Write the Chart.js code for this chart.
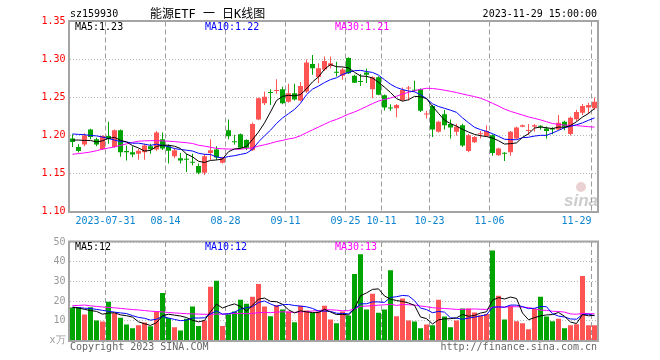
<!DOCTYPE html>
<html>
<head>
<meta charset="utf-8">
<script src="https://cdn.jsdelivr.net/npm/chart.js@4.4.0/dist/chart.umd.min.js"></script>
<style>
  body { margin: 0; background: #fff; }
  #wrap { position: relative; width: 660px; height: 360px; }
  #priceChart { position: absolute; left: 0; top: 0; }
  #volChart { position: absolute; left: 0; top: 232px; }
</style>
</head>
<body>
<div id="wrap">
  <canvas id="priceChart" width="660" height="232"></canvas>
  <canvas id="volChart" width="660" height="128"></canvas>
</div>
<script>
// trading days shown on the chart
const dates = [
  '2023-07-21','2023-07-24','2023-07-25','2023-07-26','2023-07-27','2023-07-28','2023-07-31',
  '2023-08-01','2023-08-02','2023-08-03','2023-08-04','2023-08-07','2023-08-08','2023-08-09','2023-08-10','2023-08-11',
  '2023-08-14','2023-08-15','2023-08-16','2023-08-17','2023-08-18','2023-08-21','2023-08-22','2023-08-23','2023-08-24','2023-08-25',
  '2023-08-28','2023-08-29','2023-08-30','2023-08-31',
  '2023-09-01','2023-09-04','2023-09-05','2023-09-06','2023-09-07','2023-09-08','2023-09-11','2023-09-12','2023-09-13','2023-09-14',
  '2023-09-15','2023-09-18','2023-09-19','2023-09-20','2023-09-21','2023-09-22','2023-09-25','2023-09-26','2023-09-27','2023-09-28',
  '2023-10-09','2023-10-10','2023-10-11','2023-10-12','2023-10-13','2023-10-16','2023-10-17','2023-10-18','2023-10-19','2023-10-20',
  '2023-10-23','2023-10-24','2023-10-25','2023-10-26','2023-10-27','2023-10-30','2023-10-31',
  '2023-11-01','2023-11-02','2023-11-03','2023-11-06','2023-11-07','2023-11-08','2023-11-09','2023-11-10','2023-11-13','2023-11-14',
  '2023-11-15','2023-11-16','2023-11-17','2023-11-20','2023-11-21','2023-11-22','2023-11-23','2023-11-24','2023-11-27','2023-11-28','2023-11-29'
];

const openP = [
  1.196,1.185,1.188,1.208,1.195,1.182,1.1995,1.185,1.207,1.1795,
  1.178,1.176,1.178,1.186,1.1815,1.195,1.186,1.1726,1.170,1.1685,
  1.165,1.160,1.151,1.177,1.1815,1.164,1.207,1.192,1.2017,1.194,
  1.1805,1.221,1.2425,1.257,1.2585,1.261,1.2445,1.2555,1.246,1.258,
  1.294,1.277,1.287,1.2917,1.283,1.2785,1.302,1.2785,1.271,1.283,
  1.261,1.2765,1.253,1.236,1.2357,1.2467,1.262,1.2595,1.261,1.2275,
  1.2388,1.205,1.228,1.215,1.205,1.2136,1.1797,1.191,1.2015,1.199,
  1.2004,1.174,1.1765,1.178,1.196,1.2114,1.206,1.2115,1.212,1.2093,
  1.2082,1.208,1.218,1.202,1.2215,1.230,1.237,1.2357
];
const highP = [
  1.2017,1.1886,1.203,1.209,1.197,1.2003,1.218,1.208,1.208,1.187,
  1.186,1.1825,1.189,1.189,1.206,1.204,1.188,1.184,1.177,1.176,
  1.176,1.163,1.176,1.195,1.186,1.172,1.221,1.201,1.2025,1.195,
  1.217,1.250,1.258,1.261,1.274,1.264,1.268,1.268,1.2705,1.300,
  1.306,1.295,1.304,1.304,1.297,1.289,1.303,1.280,1.281,1.288,
  1.278,1.278,1.254,1.241,1.2415,1.263,1.265,1.272,1.262,1.2325,
  1.240,1.2195,1.2335,1.221,1.2155,1.2155,1.202,1.1995,1.206,1.2136,
  1.2017,1.184,1.178,1.206,1.212,1.2145,1.215,1.215,1.2136,1.212,
  1.211,1.227,1.2195,1.225,1.234,1.2415,1.2432,1.250
];
const lowP = [
  1.185,1.1776,1.186,1.195,1.186,1.181,1.189,1.184,1.172,1.167,
  1.1715,1.168,1.168,1.176,1.180,1.181,1.163,1.170,1.163,1.152,
  1.161,1.149,1.148,1.168,1.168,1.163,1.195,1.188,1.183,1.181,
  1.180,1.220,1.240,1.240,1.255,1.241,1.243,1.246,1.245,1.256,
  1.280,1.269,1.285,1.288,1.2775,1.2735,1.281,1.269,1.265,1.269,
  1.249,1.253,1.233,1.2325,1.224,1.245,1.246,1.2575,1.231,1.2225,
  1.198,1.204,1.208,1.196,1.200,1.185,1.178,1.190,1.196,1.198,
  1.1735,1.1735,1.1665,1.1735,1.195,1.211,1.2005,1.205,1.2075,1.196,
  1.2017,1.207,1.207,1.200,1.219,1.227,1.2285,1.2335
];
const closeP = [
  1.1916,1.1797,1.200,1.198,1.188,1.1995,1.1955,1.207,1.178,1.178,
  1.175,1.180,1.187,1.182,1.204,1.183,1.180,1.1805,1.167,1.168,
  1.164,1.151,1.1726,1.1805,1.171,1.170,1.199,1.191,1.184,1.184,
  1.215,1.249,1.251,1.256,1.259,1.2425,1.2555,1.2475,1.265,1.296,
  1.2886,1.2886,1.298,1.295,1.2825,1.287,1.282,1.2695,1.2705,1.280,
  1.2767,1.2535,1.237,1.2355,1.240,1.260,1.263,1.259,1.2325,1.2285,
  1.208,1.218,1.2135,1.2106,1.2114,1.187,1.2004,1.198,1.2018,1.206,
  1.177,1.1828,1.176,1.2048,1.2106,1.2136,1.2063,1.2136,1.2114,1.206,
  1.208,1.2167,1.2114,1.2235,1.231,1.2388,1.240,1.2444
];

// volume, unit 万
const volume = [
  16.8,16.8,13.2,16.9,10.2,9.7,19.7,13.8,11.6,8.1,
  6.2,7.7,9.1,7.2,14.9,24.1,11.4,6.7,5.1,11.0,
  17.2,7.3,10.2,27.3,30.3,7.3,13.3,14.7,20.7,18.7,
  22.2,28.7,17.3,12.3,18.0,15.7,14.7,9.3,17.7,15.2,
  14.0,14.7,17.7,10.7,8.7,14.7,12.7,33.8,43.8,15.7,
  23.7,14.1,15.7,35.7,12.3,21.3,10.2,9.7,6.2,8.1,
  7.7,20.7,12.2,6.7,10.2,16.2,16.3,14.2,12.7,13.5,
  45.7,22.7,10.7,17.7,9.8,8.8,5.7,16.0,22.2,12.2,
  9.8,11.0,6.2,7.7,8.3,32.7,7.7,7.7
];

// moving-average values for the first days,
// where the window reaches back before the first candle shown
const priceMa5Head = [1.194, 1.194, 1.1935, 1.1935];
const priceMa10Head = [1.202, 1.2015, 1.201, 1.200, 1.1995, 1.198, 1.196, 1.194, 1.192];
const priceMa30Head = [
  1.1753,1.1762,1.1771,1.1783,1.180,1.182,1.1835,1.185,1.187,1.189,
  1.191,1.1925,1.193,1.1932,1.1932,1.193,1.1925,1.192,1.1912,1.1905,
  1.1895,1.1872,1.186,1.1845,1.183,1.1825,1.1822,1.182,1.182
];
const volMa5Head = [16.8, 16.5, 15.8, 15.2];
const volMa10Head = [16.9, 16.7, 16.4, 16.2, 15.8, 15.3, 14.8, 14.4, 14.0];
const volMa30Head = [
  17.7,17.8,18.0,17.6,17.3,17.0,16.8,16.6,16.3,16.0,
  15.7,15.5,15.2,14.9,14.7,14.5,14.2,14.0,13.8,13.6,
  13.5,13.4,13.3,13.3,13.4,13.4,13.6,13.7,13.8
];

const tickDates = ['2023-07-31','2023-08-14','2023-08-28','2023-09-11','2023-09-25','2023-10-11','2023-10-23','2023-11-06','2023-11-29'];
const tickText  = ['2023-07-31','08-14','08-28','09-11','09-25','10-11','10-23','11-06','11-29     '];
const priceTicks = [1.10, 1.15, 1.20, 1.25, 1.30, 1.35];
const volTicks = [0, 10, 20, 30, 40, 50];

const priceMaLabels = ['MA5:1.23', 'MA10:1.22', 'MA30:1.21'];
const volMaLabels = ['MA5:12', 'MA10:12', 'MA30:13'];

const UP = '#ff5454';
const DOWN = '#00a400';
const maColors = ['#000000', '#0000ff', '#ff00ff'];
const MONO = '"DejaVu Sans Mono", "Liberation Mono", monospace';

function movingAvg(src, n, head) {
  return src.map((v, i) => {
    if (i < n - 1) return head[i];
    const part = src.slice(i - n + 1, i + 1);
    return part.reduce((a, b) => a + b, 0) / part.length;
  });
}

const candleColors = openP.map((o, i) => closeP[i] >= o ? UP : DOWN);

// dashed vertical lines at the labelled dates, on the left edge of the day
const dateLinesPlugin = {
  id: 'dateLines',
  beforeDatasetsDraw(chart) {
    const ctx = chart.ctx;
    const a = chart.chartArea;
    const xs = chart.scales.x;
    const half = (xs.getPixelForValue(1) - xs.getPixelForValue(0)) / 2;
    ctx.save();
    ctx.strokeStyle = '#9c9c9c';
    ctx.lineWidth = 1;
    ctx.beginPath();
    for (const d of tickDates) {
      const i = dates.indexOf(d);
      const x = Math.floor(xs.getPixelForValue(i) - half) + 0.5;
      for (let y = a.top; y < a.bottom; y += 8) {
        ctx.moveTo(x, y);
        ctx.lineTo(x, Math.min(y + 5, a.bottom));
      }
    }
    ctx.stroke();
    ctx.restore();
  }
};

// frame around the plot area
const framePlugin = {
  id: 'frame',
  afterDraw(chart) {
    const ctx = chart.ctx;
    const a = chart.chartArea;
    ctx.save();
    ctx.strokeStyle = '#a4a4a4';
    ctx.lineWidth = 2;
    ctx.strokeRect(a.left - 0.5, a.top - 0.5, a.right - a.left + 1, a.bottom - a.top + 1);
    ctx.restore();
  }
};

function maLabelPlugin(labels, baseline) {
  return {
    id: 'maLabels',
    afterDraw(chart) {
      const ctx = chart.ctx;
      const xs = [75, 205, 335];
      ctx.save();
      ctx.font = '10px ' + MONO;
      labels.forEach((t, i) => {
        ctx.fillStyle = maColors[i];
        ctx.fillText(t, xs[i], baseline);
      });
      ctx.restore();
    }
  };
}

const headerPlugin = {
  id: 'header',
  beforeDatasetsDraw(chart) {
    // sina watermark
    const ctx = chart.ctx;
    ctx.save();
    ctx.fillStyle = '#ead2d2';
    ctx.beginPath();
    ctx.arc(581, 187, 5, 0, Math.PI * 2);
    ctx.fill();
    ctx.fillStyle = '#cccccc';
    ctx.font = 'italic bold 17px "Liberation Sans", Arial, sans-serif';
    ctx.textAlign = 'right';
    ctx.fillText('sina', 598, 206);
    ctx.restore();
  },
  afterDraw(chart) {
    const ctx = chart.ctx;
    ctx.save();
    ctx.fillStyle = '#000';
    ctx.font = '10px ' + MONO;
    ctx.fillText('sz159930', 70, 17);
    ctx.textAlign = 'right';
    ctx.fillText('2023-11-29 15:00:00', 597, 17);
    ctx.textAlign = 'left';
    ctx.font = '12px ' + MONO + ', "Noto Sans CJK SC"';
    ctx.fillText('能源ETF 一 日K线图', 150, 18);
    ctx.restore();
  }
};

const footerPlugin = {
  id: 'footer',
  afterDraw(chart) {
    const ctx = chart.ctx;
    ctx.save();
    ctx.fillStyle = '#666';
    ctx.font = '10px ' + MONO;
    ctx.fillText('Copyright 2023 SINA.COM', 70, 118);
    ctx.textAlign = 'right';
    ctx.fillText('http://finance.sina.com.cn', 597, 118);
    ctx.restore();
  }
};

function lineSet(data, color) {
  return {
    type: 'line', data, borderColor: color, borderWidth: 1,
    pointRadius: 0, tension: 0, order: 0, fill: false
  };
}

function xAxis(showLabels, height) {
  return {
    offset: true,
    grid: { display: false, drawTicks: false },
    border: { display: false },
    ticks: {
      display: showLabels, autoSkip: false, maxRotation: 0, minRotation: 0,
      padding: 4, labelOffset: -3, color: '#0a84d0',
      font: { family: MONO, size: 10 },
      callback: (v, i) => {
        const k = tickDates.indexOf(dates[i]);
        return k >= 0 ? tickText[k] : '';
      }
    },
    afterFit: s => { s.height = height; }
  };
}

new Chart(document.getElementById('priceChart'), {
  type: 'bar',
  data: {
    labels: dates,
    datasets: [
      lineSet(movingAvg(closeP, 5, priceMa5Head), maColors[0]),
      lineSet(movingAvg(closeP, 10, priceMa10Head), maColors[1]),
      lineSet(movingAvg(closeP, 30, priceMa30Head), maColors[2]),
      {
        data: openP.map((o, i) => [o, closeP[i]]),
        backgroundColor: candleColors, barThickness: 5, minBarLength: 1,
        grouped: false, inflateAmount: 0, order: 1
      },
      {
        data: lowP.map((l, i) => [l, highP[i]]),
        backgroundColor: candleColors, barThickness: 1,
        grouped: false, inflateAmount: 0, order: 2
      }
    ]
  },
  options: {
    responsive: false,
    animation: false,
    layout: { padding: { top: 21.5, right: 62.5, left: 0, bottom: 0 } },
    plugins: { legend: { display: false }, tooltip: { enabled: false } },
    scales: {
      x: xAxis(true, 20.5),
      y: {
        min: priceTicks[0], max: priceTicks[priceTicks.length - 1],
        afterBuildTicks: s => { s.ticks = priceTicks.map(v => ({ value: v })); },
        grid: { color: '#b8b8b8', drawTicks: false, lineWidth: 1 },
        border: { display: false, dash: [1, 2] },
        ticks: {
          padding: 4, color: '#ff0000', font: { family: MONO, size: 10 },
          callback: v => Number(v).toFixed(2)
        },
        afterFit: s => { s.width = 69.5; }
      }
    }
  },
  plugins: [headerPlugin, dateLinesPlugin, framePlugin, maLabelPlugin(priceMaLabels, 30)]
});

new Chart(document.getElementById('volChart'), {
  type: 'bar',
  data: {
    labels: dates,
    datasets: [
      lineSet(movingAvg(volume, 5, volMa5Head), maColors[0]),
      lineSet(movingAvg(volume, 10, volMa10Head), maColors[1]),
      lineSet(movingAvg(volume, 30, volMa30Head), maColors[2]),
      {
        data: volume, backgroundColor: candleColors, barThickness: 5,
        grouped: false, inflateAmount: 0, order: 1
      }
    ]
  },
  options: {
    responsive: false,
    animation: false,
    layout: { padding: { top: 8.5, right: 62.5, left: 0, bottom: 19.5 } },
    plugins: { legend: { display: false }, tooltip: { enabled: false } },
    scales: {
      x: xAxis(false, 0),
      y: {
        min: volTicks[0], max: volTicks[volTicks.length - 1],
        afterBuildTicks: s => { s.ticks = volTicks.map(v => ({ value: v })); },
        grid: { color: '#b8b8b8', drawTicks: false, lineWidth: 1 },
        border: { display: false, dash: [1, 2] },
        ticks: {
          padding: 4, color: '#999999', font: { family: MONO, size: 10 },
          callback: v => v === 0 ? 'x万' : String(v)
        },
        afterFit: s => { s.width = 69.5; }
      }
    }
  },
  plugins: [dateLinesPlugin, framePlugin, maLabelPlugin(volMaLabels, 17.5), footerPlugin]
});
</script>
</body>
</html>
